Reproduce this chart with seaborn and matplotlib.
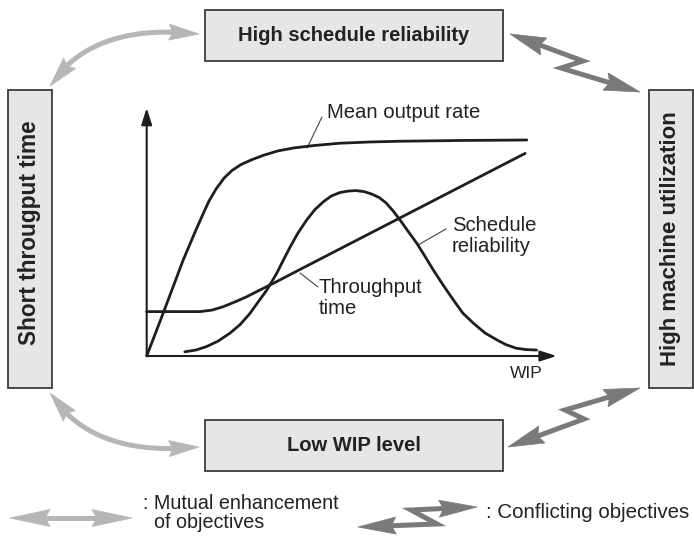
import numpy as np
import pandas as pd
import matplotlib
matplotlib.use("Agg")
import matplotlib.pyplot as plt
from matplotlib.patches import Rectangle, Polygon
import seaborn as sns

# ---------------- data (WIP 0-100, level 0-100) ----------------
mean_output_wip = [0, 4.0, 8.9, 11.8, 13.8, 15.2, 16.9, 18.9, 20.8, 23.0, 25.7, 28.6, 32.0,
                   35.9, 41.0, 47.1, 54.5, 61.8, 76.4, 92.7]
mean_output_level = [0, 17.2, 38.7, 50.0, 57.5, 62.5, 67.3, 71.8, 74.8, 77.2, 79.2, 81.0, 82.7,
                     83.9, 84.9, 85.8, 86.3, 86.6, 86.9, 87.1]

throughput_wip = [0, 13.0, 15.9, 18.7, 21.5, 24.4, 27.6, 30.9, 37.4, 92.3]
throughput_level = [17.9, 17.9, 18.5, 19.9, 21.8, 23.9, 26.6, 29.3, 34.9, 81.7]

reliability_wip = [9.3, 12.0, 14.6, 17.4, 20.3, 22.8, 25.2, 27.1, 29.3, 31.7, 33.4, 35.0, 36.9,
                   39.0, 41.0, 43.1, 45.0, 47.1, 49.1, 51.0, 53.0, 54.9, 56.7, 58.4, 60.1, 61.8,
                   63.7, 65.9, 67.9, 69.9, 72.3, 74.8, 77.1, 79.7, 82.5, 85.4, 87.6, 90.2, 92.5,
                   95.1]
reliability_level = [1.7, 2.4, 3.8, 6.0, 9.2, 12.7, 17.2, 21.6, 26.6, 33.3, 38.9, 44.0, 49.6,
                     54.8, 59.0, 62.2, 64.5, 65.9, 66.5, 66.7, 66.3, 65.3, 63.9, 61.7, 58.5, 54.8,
                     50.4, 45.4, 40.1, 34.7, 28.6, 22.6, 17.3, 13.2, 9.3, 6.5, 4.6, 3.1, 2.6,
                     2.4]

curve_names = ["Mean output rate", "Throughput time", "Schedule reliability"]
box_labels = ["High schedule reliability", "Low WIP level",
              "Short througput time", "High machine utilization"]
legend_labels = [": Mutual enhancement\n  of objectives", ": Conflicting objectives"]
axis_label = "WIP"

# ---------------- layout (pixel coordinates of the 694x538 canvas) ----------------
W, H = 694, 538
box_rects = [(205, 10, 298, 51), (205, 420, 298, 51), (8, 90, 44, 298), (649, 90, 44, 298)]
box_rot = [0, 0, 90, 90]
box_font = [14.5, 14.5, 16.3, 16.0]
box_text_dy = [0, 0, -6, 0]
chart_px = (146.7, 108, 556.7, 356)  # left, top, right, bottom

LIGHT = "#b6b6b6"
DARK = "#7a7a7a"
INK = "#1e1e1e"

sns.set_style("white")
plt.rcParams["font.family"] = ["Liberation Sans", "DejaVu Sans"]

fig = plt.figure(figsize=(W / 100, H / 100), dpi=100)
bg = fig.add_axes([0, 0, 1, 1])
bg.set_xlim(0, W)
bg.set_ylim(H, 0)
bg.axis("off")

PT = 72 / 100  # points per pixel


def head(ax, tip, frm, length, width, color):
    tip = np.asarray(tip, float)
    frm = np.asarray(frm, float)
    d = tip - frm
    d /= np.linalg.norm(d)
    n = np.array([-d[1], d[0]])
    base = tip - d * length
    pts = [tip, base + n * width / 2, base + d * length * 0.12, base - n * width / 2]
    ax.add_patch(Polygon(pts, closed=True, facecolor=color, edgecolor=color, lw=0.5, zorder=3))


def curved_arrow(ax, p0, c, p2, color, L=30, Wd=16, lw=5):
    p0, c, p2 = (np.asarray(v, float) for v in (p0, c, p2))
    t = np.linspace(0, 1, 300)[:, None]
    pts = (1 - t) ** 2 * p0 + 2 * (1 - t) * t * c + t ** 2 * p2
    d0 = np.linalg.norm(pts - p0, axis=1)
    d2 = np.linalg.norm(pts - p2, axis=1)
    keep = (d0 > L * 0.8) & (d2 > L * 0.8)
    ax.plot(pts[keep, 0], pts[keep, 1], color=color, lw=lw * PT, solid_capstyle="butt", zorder=2)
    f0 = pts[np.argmax(d0 >= L)]
    f2 = pts[len(pts) - 1 - np.argmax(d2[::-1] >= L)]
    head(ax, p0, f0, L, Wd, color)
    head(ax, p2, f2, L, Wd, color)


def zig_arrow(ax, pts, color, L=36, Wd=18, lw=5):
    P = [np.asarray(p, float) for p in pts]
    d01 = (P[1] - P[0]) / np.linalg.norm(P[1] - P[0])
    d32 = (P[2] - P[3]) / np.linalg.norm(P[2] - P[3])
    shaft = [P[0] + d01 * L * 0.8] + P[1:-1] + [P[-1] + d32 * L * 0.8]
    shaft = np.array(shaft)
    ax.plot(shaft[:, 0], shaft[:, 1], color=color, lw=lw * PT, solid_joinstyle="miter",
            solid_capstyle="butt", zorder=2)
    head(ax, P[0], P[1], L, Wd, color)
    head(ax, P[-1], P[-2], L, Wd, color)


# boxes
for (x, y, w, h), lab, rot, fs, dy in zip(box_rects, box_labels, box_rot, box_font, box_text_dy):
    bg.add_patch(Rectangle((x, y), w, h, facecolor="#e6e6e6", edgecolor="#3c3c3c", lw=1.3, zorder=2))
    bg.text(x + w / 2, y + h / 2 + dy, lab, rotation=rot, ha="center", va="center",
            fontsize=fs, fontweight="bold", color="#222222", zorder=4)

# mutual enhancement arrows (light, curved)
curved_arrow(bg, (50, 86), (92, 22), (199, 34), LIGHT)
curved_arrow(bg, (50, 393), (92, 458), (199, 447), LIGHT)
# conflicting arrows (dark, zigzag)
zig_arrow(bg, [(510, 34), (583, 61), (561, 68), (640, 92)], DARK)
zig_arrow(bg, [(640, 388), (565, 410), (584, 419), (508, 447)], DARK)

# legend
curved_arrow(bg, (10, 518), (71, 518), (132, 518), LIGHT, L=40, Wd=17, lw=5)
bg.text(143, 513, legend_labels[0], ha="left", va="center", fontsize=14.2, color="#222222",
        linespacing=1.05)
zig_arrow(bg, [(358, 527), (437, 524), (411, 510), (477, 507)], DARK, L=38, Wd=17)
bg.text(486, 513, legend_labels[1], ha="left", va="center", fontsize=14.8, color="#222222")

# ---------------- inner chart ----------------
l, t, r, b = chart_px
ax = fig.add_axes([l / W, 1 - b / H, (r - l) / W, (b - t) / H])
ax.patch.set_alpha(0)
ax.set_xlim(0, 100)
ax.set_ylim(0, 100)
for s in ax.spines.values():
    s.set_visible(False)
ax.set_xticks([])
ax.set_yticks([])

df = pd.concat([
    pd.DataFrame({"wip": mean_output_wip, "level": mean_output_level, "curve": curve_names[0]}),
    pd.DataFrame({"wip": throughput_wip, "level": throughput_level, "curve": curve_names[1]}),
    pd.DataFrame({"wip": reliability_wip, "level": reliability_level, "curve": curve_names[2]}),
], ignore_index=True)

sns.lineplot(data=df, x="wip", y="level", hue="curve", palette=[INK] * 3, estimator=None,
             legend=False, linewidth=2.0, ax=ax)
for ln in ax.lines:
    ln.set_solid_joinstyle("round")
    ln.set_solid_capstyle("round")
    ln.set_clip_on(False)
ax.set_xlabel("")
ax.set_ylabel("")

arrow_kw = dict(arrowstyle="-|>,head_length=1.0,head_width=0.32", lw=1.5, color=INK,
                shrinkA=0, shrinkB=0)
ax.annotate("", xy=(0, 100), xytext=(0, 0), arrowprops=arrow_kw, annotation_clip=False)
ax.annotate("", xy=(100, 0), xytext=(0, 0), arrowprops=arrow_kw, annotation_clip=False)

# curve labels with leader lines (pixel coordinates on the canvas)
lab_kw = dict(fontsize=14.6, color="#222222", ha="left", va="center", zorder=5)
bg.text(327, 112, curve_names[0], **lab_kw)
bg.plot([322, 307], [117, 148], color="#444444", lw=0.8, zorder=5)
bg.text(452, 236, "Schedule\nreliability", linespacing=1.1, **lab_kw)
bg.plot([446, 418], [229, 245], color="#444444", lw=0.8, zorder=5)
bg.text(319, 298, "Throughput\ntime", linespacing=1.1, **lab_kw)
bg.plot([318, 300], [287, 273], color="#444444", lw=0.8, zorder=5)
bg.text(510, 373, axis_label, fontsize=12.5, color="#222222", ha="left", va="center")

fig.savefig("out.png", dpi=100)
